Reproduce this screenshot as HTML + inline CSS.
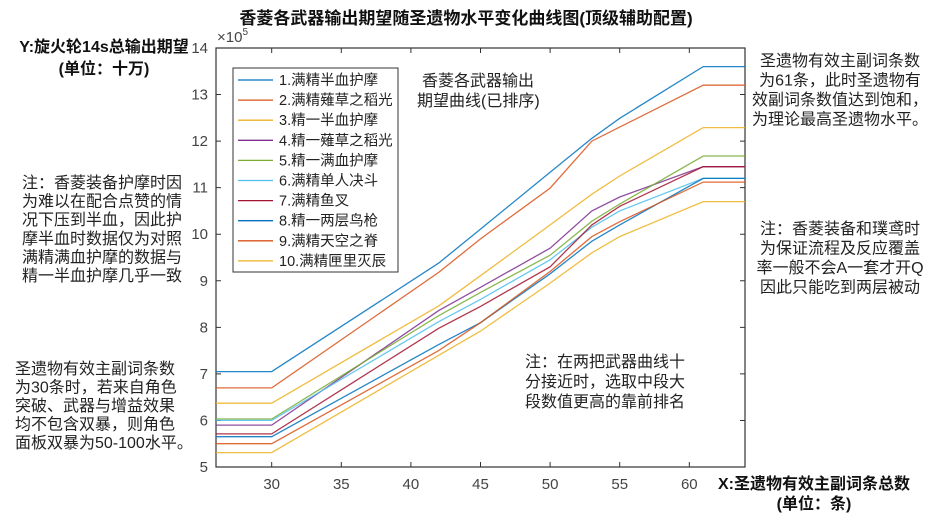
<!DOCTYPE html>
<html><head><meta charset="utf-8"><style>
body{margin:0;background:#fff;}
svg{display:block;font-family:"Liberation Sans","Noto Sans CJK SC",sans-serif;}
</style></head><body>
<svg id="chart" width="942" height="524" viewBox="0 0 942 524">
<text x="466" y="24" text-anchor="middle" font-size="17" font-weight="bold" fill="#111">香菱各武器输出期望随圣遗物水平变化曲线图(顶级辅助配置)</text>
<g font-size="16" font-weight="bold" fill="#111" text-anchor="middle">
<text x="104" y="52">Y:旋火轮14s总输出期望</text>
<text x="104" y="74">(单位：十万)</text>
<text x="814" y="489">X:圣遗物有效主副词条总数</text>
<text x="814" y="509">(单位：条)</text>
</g>
<g font-size="16" fill="#222">
<text x="22" y="188">注：香菱装备护摩时因</text>
<text x="22" y="206.6">为难以在配合点赞的情</text>
<text x="22" y="225.2">况下压到半血，因此护</text>
<text x="22" y="243.8">摩半血时数据仅为对照</text>
<text x="22" y="262.4">满精满血护摩的数据与</text>
<text x="22" y="281">精一半血护摩几乎一致</text>
</g>
<g font-size="16" fill="#222">
<text x="15" y="374">圣遗物有效主副词条数</text>
<text x="15" y="392.5">为30条时，若来自角色</text>
<text x="15" y="411">突破、武器与增益效果</text>
<text x="15" y="429.5">均不包含双暴，则角色</text>
<text x="15" y="448">面板双暴为50-100水平。</text>
</g>
<g font-size="16" fill="#222" text-anchor="middle">
<text x="840" y="66">圣遗物有效主副词条数</text>
<text x="840" y="85.5">为61条，此时圣遗物有</text>
<text x="840" y="105">效副词条数值达到饱和，</text>
<text x="840" y="124.5">为理论最高圣遗物水平。</text>
</g>
<g font-size="16" fill="#222" text-anchor="middle">
<text x="840" y="234">注：香菱装备和璞鸢时</text>
<text x="840" y="253.5">为保证流程及反应覆盖</text>
<text x="840" y="273">率一般不会A一套才开Q</text>
<text x="840" y="292.5">因此只能吃到两层被动</text>
</g>
<g id="axes"></g>
<g id="lines"></g>
<g font-size="16" fill="#222">
<text x="422" y="86">香菱各武器输出</text>
<text x="417" y="106">期望曲线(已排序)</text>
</g>
<g font-size="16" fill="#222">
<text x="525" y="367">注：在两把武器曲线十</text>
<text x="525" y="387">分接近时，选取中段大</text>
<text x="525" y="407">段数值更高的靠前排名</text>
</g>
<g id="legend"></g>
</svg>
<script>
const xValues = [26, 30, 42, 45, 50, 53, 55, 61, 64];
const seriesNames = ["1.满精半血护摩","2.满精薙草之稻光","3.精一半血护摩","4.精一薙草之稻光","5.精一满血护摩","6.满精单人决斗","7.满精鱼叉","8.精一两层鸟枪","9.满精天空之脊","10.满精匣里灭辰"];
const s1 = [7.05, 7.05, 9.38, 10.11, 11.33, 12.06, 12.49, 13.6, 13.6];
const s2 = [6.7, 6.7, 9.18, 9.9, 10.99, 12.0, 12.3, 13.2, 13.2];
const s3 = [6.37, 6.37, 8.46, 9.11, 10.2, 10.86, 11.25, 12.29, 12.29];
const s4 = [5.9, 5.9, 8.36, 8.86, 9.7, 10.5, 10.8, 11.45, 11.45];
const s5 = [6.03, 6.03, 8.25, 8.75, 9.55, 10.28, 10.65, 11.68, 11.68];
const s6 = [6.0, 6.0, 8.12, 8.6, 9.45, 10.15, 10.5, 11.2, 11.2];
const s7 = [5.71, 5.71, 7.98, 8.45, 9.3, 10.2, 10.6, 11.45, 11.45];
const s8 = [5.65, 5.65, 7.63, 8.1, 9.15, 9.85, 10.2, 11.2, 11.2];
const s9 = [5.5, 5.5, 7.5, 8.1, 9.2, 9.95, 10.27, 11.12, 11.12];
const s10 = [5.31, 5.31, 7.4, 7.92, 8.95, 9.6, 9.95, 10.7, 10.7];
const xTicks = [30, 35, 40, 45, 50, 55, 60];
const yTicks = [5, 6, 7, 8, 9, 10, 11, 12, 13, 14];

const NS = "http://www.w3.org/2000/svg";
const X0 = 216, X1 = 745, Y0 = 467, Y1 = 48;
const xMin = 26, xMax = 64, yMin = 5, yMax = 14;
const xs = v => X0 + (v - xMin) / (xMax - xMin) * (X1 - X0);
const ys = v => Y0 - (v - yMin) / (yMax - yMin) * (Y0 - Y1);
const colors = ["#0072BD","#D95319","#EDB120","#7E2F8E","#77AC30","#4DBEEE","#A2142F","#0072BD","#D95319","#EDB120"];
const allSeries = [s1,s2,s3,s4,s5,s6,s7,s8,s9,s10];
function mk(tag, attrs, parent){const e=document.createElementNS(NS,tag);for(const k in attrs)e.setAttribute(k,attrs[k]);parent.appendChild(e);return e;}

const axes = document.getElementById("axes");
const box = mk("rect",{x:X0,y:Y1,width:X1-X0,height:Y0-Y1,fill:"none",stroke:"#333","stroke-width":1.2},axes);


xTicks.forEach(t=>{
  const x=xs(t);
  const tk=mk("path",{d:`M${x},${Y0}v-5M${x},${Y1}v5`,stroke:"#333","stroke-width":1},axes);
  
  
  const lb=mk("text",{x:x,y:Y0+22,"text-anchor":"middle","font-size":15,fill:"#444"},axes);
  lb.textContent=t;
  
  
});
yTicks.forEach(t=>{
  const y=ys(t);
  const tk=mk("path",{d:`M${X0},${y}h5M${X1},${y}h-5`,stroke:"#333","stroke-width":1},axes);
  
  
  const lb=mk("text",{x:X0-8,y:y+5,"text-anchor":"end","font-size":15,fill:"#444"},axes);
  lb.textContent=t;
  
  
});
const mult=mk("text",{x:X0+1,y:Y1-6,"font-size":15,fill:"#444"},axes);
mult.innerHTML='×10<tspan font-size="10" dy="-7">5</tspan>';



const lines = document.getElementById("lines");
allSeries.forEach((s,i)=>{
  const d = s.map((v,j)=>(j?"L":"M")+xs(xValues[j]).toFixed(1)+","+ys(v).toFixed(1)).join("");
  const p=mk("path",{d:d,fill:"none",stroke:colors[i],"stroke-width":1.3,opacity:0.85},lines);
  
  
});

const legend = document.getElementById("legend");
const lg=mk("rect",{x:233,y:68,width:165,height:204,fill:"#fff",stroke:"#333","stroke-width":1},legend);


seriesNames.forEach((n,i)=>{
  const y=80+i*20.1;
  const g=mk("g",{},legend);
  
  
  mk("line",{x1:238,x2:273,y1:y,y2:y,stroke:colors[i],"stroke-width":1.3},g);
  const t=mk("text",{x:279,y:y+5,"font-size":14.5,fill:"#222"},g);
  t.textContent=n;
});
</script>
</body></html>
